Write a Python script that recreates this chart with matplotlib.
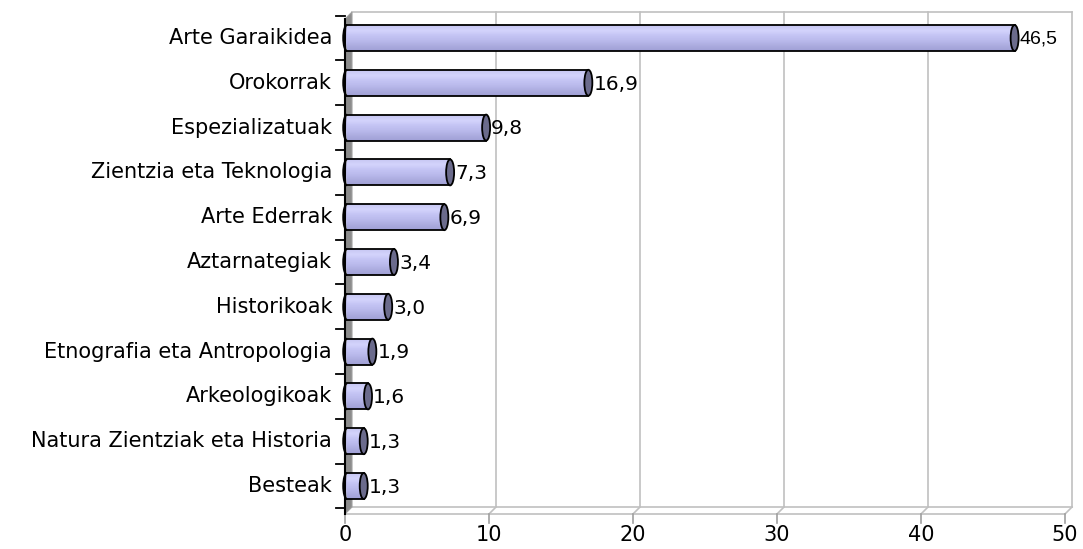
import numpy as np
import matplotlib.pyplot as plt
from matplotlib.patches import Ellipse, Polygon, Arc
from matplotlib.colors import LinearSegmentedColormap

categories = ['Arte Garaikidea', 'Orokorrak', 'Espezializatuak', 'Zientzia eta Teknologia',
              'Arte Ederrak', 'Aztarnategiak', 'Historikoak', 'Etnografia eta Antropologia',
              'Arkeologikoak', 'Natura Zientziak eta Historia', 'Besteak']
values = [46.5, 16.9, 9.8, 7.3, 6.9, 3.4, 3.0, 1.9, 1.6, 1.3, 1.3]
labels = ['46,5', '16,9', '9,8', '7,3', '6,9', '3,4', '3,0', '1,9', '1,6', '1,3', '1,3']
xticks = [0, 10, 20, 30, 40, 50]

fig = plt.figure(figsize=(10.83, 5.49), dpi=100)
ax = fig.add_axes([345/1083, 1-514/549, 720/1083, 502/549])
ax.axis('off')

# px -> data helpers
dx = 50/720     # data units per pixel, x
dy = 11.205/502 # data units per pixel, y
y_bot = 10.625
y_top = -0.58

# back wall gridlines (offset for the 3D depth)
off_x, off_y = 7*dx, 7*dy
y_floor = y_bot - off_y
grid_c = '#c0c0c0'
for t in xticks[1:]:
    ax.plot([t + off_x, t + off_x], [y_top, y_floor], color=grid_c, lw=1.2, zorder=0, clip_on=False)
    ax.plot([t, t + off_x], [y_bot, y_floor], color=grid_c, lw=1.2, zorder=0, clip_on=False)
ax.plot([off_x, 50 + off_x], [y_top, y_top], color=grid_c, lw=1.2, zorder=0, clip_on=False)
ax.plot([off_x, 50 + off_x], [y_floor, y_floor], color=grid_c, lw=1.2, zorder=0, clip_on=False)
ax.plot([0, 50], [y_bot, y_bot], color=grid_c, lw=1.2, zorder=0, clip_on=False)

# left side wall
wall = Polygon([[0, y_top + off_y], [off_x, y_top], [off_x, y_floor], [0, y_bot]],
               closed=True, facecolor='#8c8c8c', edgecolor='#a0a0a0', lw=0.8, zorder=1, clip_on=False)
ax.add_patch(wall)

# bars drawn as cylinders
cmap = LinearSegmentedColormap.from_list('cyl', ['#c6c6f2', '#d4d4fc', '#c4c4f4', '#babaec', '#acacdf', '#a0a0d6'])
grad = np.linspace(0, 1, 64).reshape(-1, 1)
h = 0.58
cap_w = 8*dx
for i, v in enumerate(values):
    y0, y1 = i - h/2, i + h/2
    x0 = 0.15
    ax.imshow(grad, cmap=cmap, aspect='auto', extent=[x0, v, y1, y0], zorder=2, interpolation='bilinear')
    ax.plot([x0, v], [y0, y0], color='black', lw=1.3, zorder=3)
    ax.plot([x0, v], [y1, y1], color='black', lw=1.3, zorder=3)
    ax.add_patch(Arc((x0, i), cap_w, h, theta1=90, theta2=270, edgecolor='black', lw=1.3, zorder=3,
                     clip_on=False))
    ax.add_patch(Ellipse((x0 - cap_w/4, i), cap_w/2, h*0.95, facecolor='#c2c2f0', edgecolor='none', zorder=2,
                         clip_on=False))
    ax.add_patch(Ellipse((v, i), cap_w, h, facecolor='#6b6b8c', edgecolor='black', lw=1.3, zorder=4))
    fam = 'Liberation Sans' if i == 0 else 'DejaVu Sans'
    fs = 14 if i == 0 else 14.5
    ax.text(v + cap_w/2 + 1*dx, i + 0.03, labels[i], va='center', ha='left', fontsize=fs,
            family=fam, zorder=5)

ax.set_xlim(0, 50)
ax.set_ylim(y_bot, y_top)

# left axis line and ticks
ax.plot([0, 0], [y_top + off_y, y_bot], color='black', lw=1.5, zorder=6, clip_on=False)
for k in range(12):
    yb = -0.5 + k
    ax.plot([-9*dx, 0], [yb, yb], color='black', lw=1.3, zorder=6, clip_on=False)

# bottom ticks and labels
for t in xticks:
    ax.plot([t, t], [y_bot, y_bot + 9*dy], color='#a0a0a0', lw=1.2, clip_on=False)
    ax.text(t, y_bot + 11*dy, str(t), ha='center', va='top', fontsize=15)

# category labels
for i, c in enumerate(categories):
    ax.text(-13*dx, i, c, ha='right', va='center', fontsize=15)

fig.savefig('out.png', dpi=100)
